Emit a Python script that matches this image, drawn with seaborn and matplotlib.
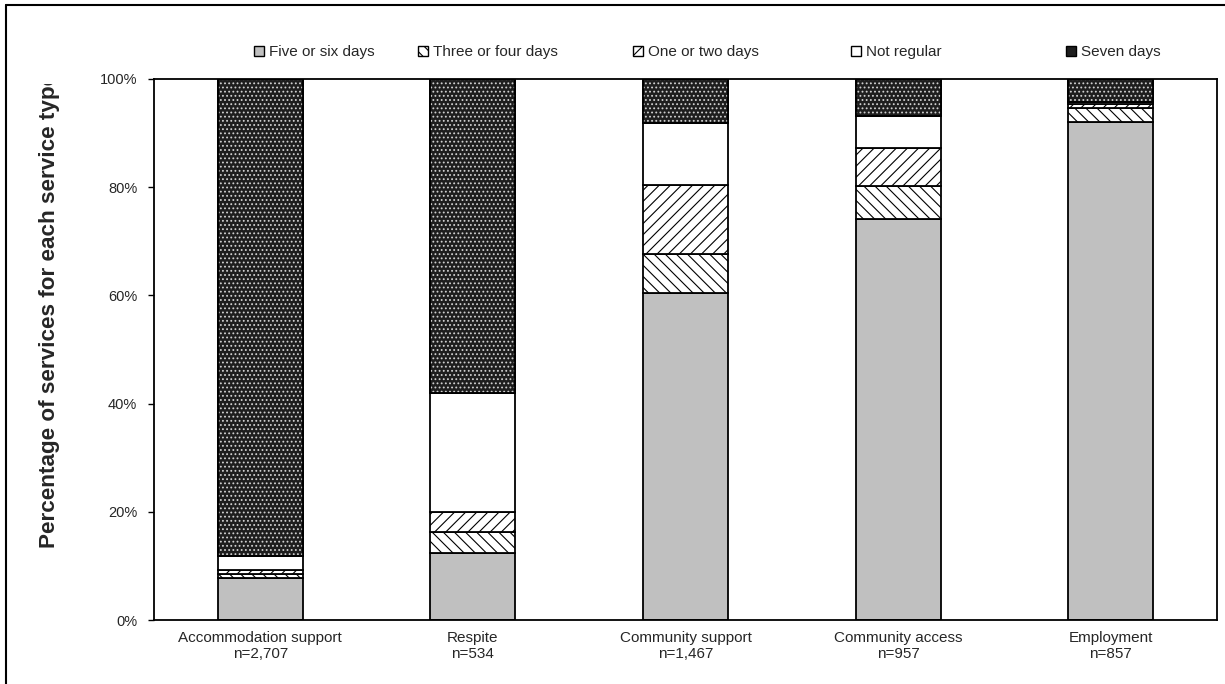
import numpy as np
import pandas as pd
import seaborn as sns
import matplotlib.pyplot as plt
from matplotlib.patches import Patch
from matplotlib.lines import Line2D
from matplotlib.transforms import Bbox, TransformedBbox

services = ["Accommodation support", "Respite", "Community support", "Community access", "Employment"]
counts = ["2,707", "534", "1,467", "957", "857"]
tick_labels = [f"{s}\nn={c}" for s, c in zip(services, counts)]

# percentages, stacked bottom -> top
five_six = [7.8, 12.3, 60.5, 74.2, 92.1]
three_four = [0.7, 3.9, 7.1, 6.1, 2.6]
one_two = [0.8, 3.7, 12.8, 7.0, 0.6]
not_regular = [2.6, 22.1, 11.4, 5.9, 0.5]
seven = [88.1, 58.0, 8.2, 6.8, 4.2]

layers = [
    ("Five or six days", five_six, dict(facecolor="#c0c0c0", hatch=None)),
    ("Three or four days", three_four, dict(facecolor="white", hatch="\\\\\\")),
    ("One or two days", one_two, dict(facecolor="white", hatch="///")),
    ("Not regular", not_regular, dict(facecolor="white", hatch=None)),
    ("Seven days", seven, dict(facecolor="#1e1e1e", hatch=None)),
]
# legend marker x positions (pixels) as in the original layout
legend_x = [254, 418, 633, 851, 1066]

sns.set_style("white")
plt.rcParams['font.family'] = ['Liberation Sans', 'DejaVu Sans']
plt.rcParams['hatch.linewidth'] = 0.8

W, H = 1225, 684
fig = plt.figure(figsize=(W / 100, H / 100), dpi=100)
ax = fig.add_axes([154 / W, 1 - 620 / H, (1217 - 154) / W, (620 - 79) / H])

df = pd.DataFrame({"service": tick_labels})
bottom = np.zeros(len(services))
handles = []
for name, vals, style in layers:
    sns.barplot(x=df["service"], y=vals, bottom=bottom, width=0.4, errorbar=None,
                color="black", saturation=1,
                facecolor=style["facecolor"], edgecolor="black", linewidth=1.3,
                hatch=style["hatch"], ax=ax)
    if name == "Seven days":
        # light dot grid over the dark fill
        sns.barplot(x=df["service"], y=vals, bottom=bottom, width=0.4, errorbar=None,
                    color="black", saturation=1,
                    facecolor="none", edgecolor="#d0d0d0", linewidth=0,
                    hatch="....", ax=ax)
        sns.barplot(x=df["service"], y=vals, bottom=bottom, width=0.4, errorbar=None,
                    color="black", saturation=1,
                    facecolor="none", edgecolor="black", linewidth=1.3, ax=ax)
    bottom = bottom + np.array(vals)
    handles.append(Patch(facecolor=style["facecolor"], edgecolor="black",
                         hatch=style["hatch"], linewidth=1.0, label=name))

ax.set_ylim(0, 100)
ax.set_xlim(-0.5, 4.5)
ax.set_yticks(range(0, 101, 20))
ax.set_yticklabels([f"{v}%" for v in range(0, 101, 20)], fontsize=10.5)
ax.tick_params(axis="y", left=True, length=4, width=1, color="black", pad=8)
ax.tick_params(axis="x", length=0, labelsize=11, pad=8)
ax.set_xlabel("")
for sp in ax.spines.values():
    sp.set_visible(True)
    sp.set_color("black")
    sp.set_linewidth(1.3)

# y label runs past the top of the chart area and gets cut, as in the original
ax.set_ylabel("Percentage of services for each service type", fontsize=16.2, fontweight="bold")
lab = ax.yaxis.label
lab.set_rotation(90)
lab.set_rotation_mode("anchor")
lab.set_ha("left")
lab.set_va("center")
ax.yaxis.set_label_coords((49 - 154) / (1217 - 154), (620 - 548) / (620 - 79))
lab.set_clip_box(TransformedBbox(Bbox([[0, 0], [1, 1 - 84 / H]]), fig.transFigure))
lab.set_clip_on(True)

# one legend entry per slot, like the original spacing
for h, lx in zip(handles, legend_x):
    fig.legend(handles=[h], loc="center left", bbox_to_anchor=(lx / W, 1 - 52 / H),
               frameon=False, fontsize=11, handlelength=0.65, handleheight=0.65,
               handletextpad=0.3, borderaxespad=0, borderpad=0)

# outer frame (left and top edges)
fig.add_artist(Line2D([6 / W, 6 / W], [0, 1 - 5 / H], color="black", lw=1.5))
fig.add_artist(Line2D([6 / W, 1], [1 - 5 / H, 1 - 5 / H], color="black", lw=1.5))

fig.savefig("out.png", dpi=100)
